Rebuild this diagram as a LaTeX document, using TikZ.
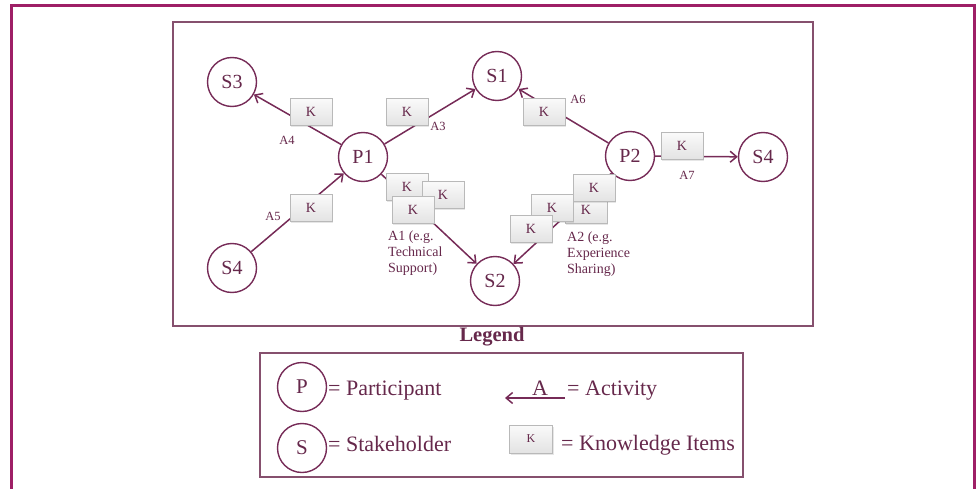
\documentclass[tikz,border=0pt]{standalone}
\usepackage{fontspec}
\setmainfont{Liberation Serif}
\usetikzlibrary{arrows.meta,shadows}
\definecolor{frame}{HTML}{9E1F66}
\definecolor{ink}{HTML}{66284B}
\definecolor{edge}{HTML}{762B57}
\definecolor{boxline}{HTML}{86506E}
\tikzset{
  party/.style={circle, draw=edge, line width=1.4pt, fill=white, minimum size=49pt,
    inner sep=0pt, text=ink, font=\fontsize{20}{21}\selectfont},
  kbox/.style={rectangle, draw=gray!55, line width=0.6pt, top color=gray!4, bottom color=gray!22,
    minimum width=42pt, minimum height=27pt, inner sep=0pt, text=ink,
    font=\fontsize{14}{15}\selectfont,
    drop shadow={opacity=0.2, shadow xshift=1pt, shadow yshift=-1.5pt}},
  act/.style={draw=edge, line width=1.5pt, -{Straight Barb[length=6.5pt,width=11pt]}},
  alabel/.style={text=ink, font=\fontsize{12.5}{14}\selectfont, inner sep=0pt},
  ablock/.style={text=ink, font=\fontsize{14}{16}\selectfont, align=left, inner sep=0pt,
    anchor=north west},
  legtext/.style={text=ink, font=\fontsize{22}{24}\selectfont, inner sep=0pt, anchor=base west},
}
\begin{document}
\begin{tikzpicture}[x=1pt,y=-1pt]
\useasboundingbox (0,0) rectangle (976,489);

% outer frame (open at the bottom)
\draw[frame, line width=3pt] (11.5,500) -- (11.5,6) -- (974,6) -- (974,500);

% diagram area and legend frame
\draw[boxline, line width=1.3pt] (173,22) rectangle (813,326);
\draw[boxline, line width=1.3pt] (260,353) rectangle (743,477);

% participants and stakeholders
\node[party] (S3)  at (232,82)  {S3};
\node[party] (P1)  at (363,157) {P1};
\node[party] (S1)  at (497,76)  {S1};
\node[party] (P2)  at (630,156) {P2};
\node[party] (S4r) at (763,157) {S4};
\node[party] (S2)  at (495,281) {S2};
\node[party] (S4l) at (232,268) {S4};

% activities
\draw[act] (P1) -- (S3);
\draw[act] (P1) -- (S1);
\draw[act] (S4l) -- (P1);
\draw[act] (P1) -- (S2);
\draw[act] (P2) -- (S1);
\draw[act] (P2) -- (S4r);
\draw[act] (P2) -- (S2);

% knowledge items
\node[kbox] (k4)  at (311,112) {K};
\node[kbox] (k3)  at (407,112) {K};
\node[kbox] (k5)  at (311,208) {K};
\node[kbox] (k1a) at (407,187) {K};
\node[kbox] (k1b) at (443,195) {K};
\node[kbox] (k1c) at (413,210) {K};
\node[kbox] (k6)  at (544,112) {K};
\node[kbox] (k7)  at (682,146) {K};
\node[kbox] (k2a) at (586,210) {K};
\node[kbox] (k2b) at (594,188) {K};
\node[kbox] (k2c) at (552,208) {K};
\node[kbox] (k2d) at (531,229) {K};

% activity labels
\node[alabel] (a4) at (287,140) {A4};
\node[alabel] (a3) at (438,126) {A3};
\node[alabel] (a5) at (273,216) {A5};
\node[alabel] (a6) at (578,99)  {A6};
\node[alabel] (a7) at (687,175) {A7};
\node[ablock] (a1) at (388,231) {A1 (e.g.\\Technical\\Support)};
\node[ablock] (a2) at (567,232) {A2 (e.g.\\Experience\\Sharing)};

% legend
\node[text=ink, font=\bfseries\fontsize{20.5}{22}\selectfont] (legtitle) at (492,337) {Legend};
\node[party, font=\fontsize{21}{22}\selectfont] (legP) at (302,387) {P};
\node[legtext] (legPt) at (328,395) {= Participant};
\node[party, font=\fontsize{21}{22}\selectfont] (legS) at (302,448) {S};
\node[legtext] (legSt) at (328,451) {= Stakeholder};
\coordinate (actfrom) at (565,398);
\coordinate (actto) at (505,398);
\draw[act] (actfrom) -- (actto);
\node[text=ink, font=\fontsize{22}{24}\selectfont, inner sep=0pt, anchor=base] (legA) at (540,395) {A};
\node[legtext] (legAt) at (567,395) {= Activity};
\node[kbox, minimum width=43pt, minimum height=28pt, font=\fontsize{12}{13}\selectfont] (legK) at (531,439) {K};
\node[legtext] (legKt) at (561,450) {= Knowledge Items};
\end{tikzpicture}
\end{document}
